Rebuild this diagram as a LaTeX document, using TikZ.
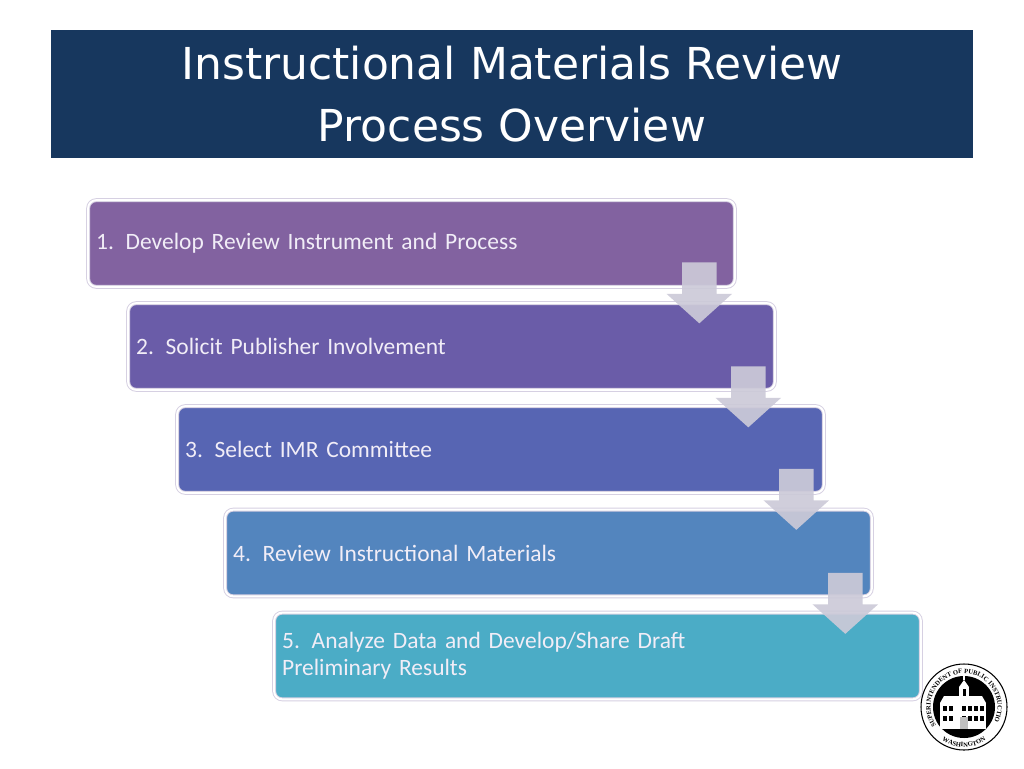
\documentclass[tikz,border=0pt]{standalone}
\usepackage{fontspec}
\setmainfont{Carlito}
\newfontfamily\titlefont{DejaVu Sans}
\newfontfamily\sealfont{Liberation Serif}[Scale=1]
\usetikzlibrary{calc,shapes.arrows,decorations.text}
\definecolor{banner}{HTML}{17375E}
\definecolor{stepa}{HTML}{8262A0}
\definecolor{stepb}{HTML}{6A5CA8}
\definecolor{stepc}{HTML}{5765B3}
\definecolor{stepd}{HTML}{5385BE}
\definecolor{stepe}{HTML}{4BACC6}
\definecolor{stepedge}{HTML}{D6D0E2}
\definecolor{steptext}{HTML}{F1EDF7}
\definecolor{flowfill}{HTML}{CCCAD8}
\begin{document}
\begin{tikzpicture}[
  x=0.75pt, y=-0.75pt,
  titlebar/.style={rectangle, fill=banner, text=white, minimum width=691.5pt, minimum height=96pt, align=center, inner sep=0pt, font=\titlefont\fontsize{33}{46.5}\selectfont},
  stepbox/.style={rectangle, rounded corners=6pt, draw=stepedge, line width=0.7pt, double=white, double distance=1.5pt, minimum width=485pt, minimum height=65pt, text width=473pt, inner xsep=6pt, align=left, text=steptext, font=\fontsize{17.6}{20.3}\selectfont},
  flowarrow/.style={single arrow, rotate=-90, anchor=tip, fill=flowfill, fill opacity=0.92, inner sep=0pt, text height=25.5pt, text depth=0pt, text width=0pt, minimum height=45.75pt, single arrow head extend=11.6pt, single arrow head indent=0pt, single arrow tip angle=96}
]
\useasboundingbox (0,0) rectangle (1024,768);
\fill[white] (0,0) rectangle (1024,768);

% Title
\node[titlebar] (title) at (512,94) {Instructional Materials Review\\Process Overview};

% Steps
\node[stepbox, fill=stepa] (s1) at (411.5,243.5) {1. Develop Review Instrument and Process};
\node[stepbox, fill=stepb] (s2) at (451.5,346.5) {2. Solicit Publisher Involvement};
\node[stepbox, fill=stepc] (s3) at (500.5,449.5) {3. Select IMR Committee};
\node[stepbox, fill=stepd] (s4) at (548.5,553) {4. Review Instructional Materials};
\node[stepbox, fill=stepe] (s5) at (597.5,656) {5. Analyze Data and Develop/Share Draft\\Preliminary Results};

% Arrows between steps
\node[flowarrow] (a1) at ($(s2.north east)+(-76,21)$) {};
\node[flowarrow] (a2) at ($(s3.north east)+(-76,22)$) {};
\node[flowarrow] (a3) at ($(s4.north east)+(-76,21)$) {};
\node[flowarrow] (a4) at ($(s5.north east)+(-76,22)$) {};

% Seal
\begin{scope}[shift={(964,707)}, x=0.75pt, y=0.75pt]
  \draw[black, line width=0.8pt, fill=white] (0,0) circle (43);
  \fill[black] (0,0) circle (31);
  \path[decorate, decoration={text along path, text align=center, text={|\sealfont\bfseries\fontsize{4.9}{5}\selectfont|SUPERINTENDENT OF PUBLIC INSTRUCTION}}] (205:33.5) arc (205:-25:33.5);
  \path[decorate, decoration={text along path, text align=center, text={|\sealfont\bfseries\fontsize{4.9}{5}\selectfont|WASHINGTON}}] (222:40) arc (222:318:40);
  % building
  \fill[white] (-24,-22) rectangle (22,4);
  \fill[white] (-24,4) -- (-20,11) -- (18,11) -- (22,4) -- cycle;
  \fill[white] (-5,11) rectangle (5,20);
  \fill[white] (-5,20) -- (0,27) -- (5,20) -- cycle;
  \fill[white] (-0.6,27) rectangle (0.6,31);
  \fill[black] (-1.5,11) rectangle (1.5,18);
  \foreach \wx in {-21,-15,-2,4,10,16}
    \foreach \wy in {-14,-4} {
      \fill[black] (\wx,\wy) rectangle ++(3.6,5);
    }
  \fill[gray!50] (-4,-22) rectangle (4,-10);
\end{scope}
\end{tikzpicture}
\end{document}
